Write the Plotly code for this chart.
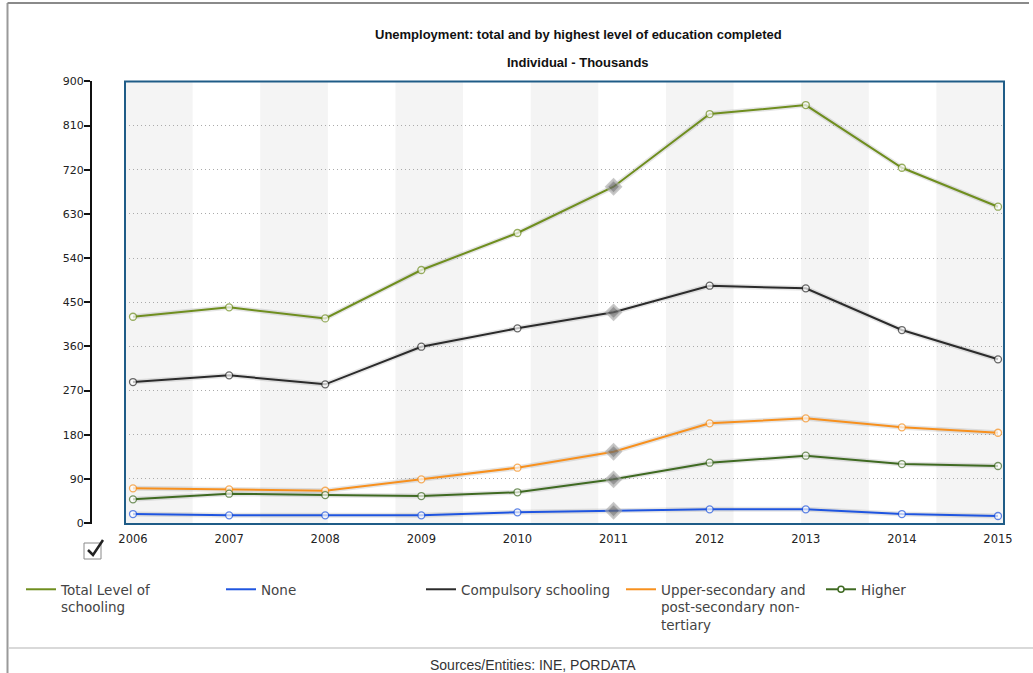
import plotly.graph_objects as go

# ---------------- data ----------------
years = [2006, 2007, 2008, 2009, 2010, 2011, 2012, 2013, 2014, 2015]
total = [420.4, 439.6, 417.0, 515.6, 591.0, 685.3, 833.5, 851.8, 724.0, 644.6]
none_ = [18.3, 15.7, 15.7, 15.7, 21.8, 25.0, 27.9, 27.9, 18.3, 14.3]
compulsory = [287.3, 301.0, 282.6, 359.3, 396.8, 429.4, 483.6, 478.3, 393.3, 333.6]
upper_secondary = [70.7, 68.7, 65.8, 89.0, 112.7, 145.3, 203.2, 213.4, 195.0, 184.0]
higher = [48.3, 59.7, 57.0, 55.0, 62.6, 89.0, 122.9, 137.2, 120.2, 116.2]
highlight_year = 2011

series_names = ["Total Level of<br>schooling", "None", "Compulsory schooling",
                "Upper-secondary and<br>post-secondary non-<br>tertiary", "Higher"]
series_values = [total, none_, compulsory, upper_secondary, higher]
series_colors = ["#6f8e1f", "#1f55e0", "#2b2b2b", "#f7901e", "#3f6a22"]
legend_modes = ["lines", "lines", "lines", "lines", "lines+markers"]

y_ticks = [0, 90, 180, 270, 360, 450, 540, 630, 720, 810, 900]

title_text = "Unemployment: total and by highest level of education completed"
subtitle_text = "Individual - Thousands"
source_text = "Sources/Entities: INE, PORDATA"

# ---------------- layout geometry (pixels) ----------------
W, H = 1033, 673
px_x = lambda p: p / W
px_y = lambda p: (H - p) / H

plot_left, plot_right = 125, 1004
plot_top, plot_bottom = 81.4, 524

fig = go.Figure()

# soft shadows under the lines
for vals in series_values:
    fig.add_trace(go.Scatter(
        x=years, y=vals, mode="lines", showlegend=False, hoverinfo="skip",
        line=dict(color="rgba(0,0,0,0.10)", width=5),
    ))

for name, vals, col, lmode in zip(series_names, series_values, series_colors, legend_modes):
    symbols = ["diamond" if y == highlight_year else "circle" for y in years]
    sizes = [11 if y == highlight_year else 7 for y in years]
    fills = ["#6a6a6a" if y == highlight_year else "white" for y in years]
    lcols = ["rgba(170,170,170,0.9)" if y == highlight_year else col for y in years]
    lwid = [2.5 if y == highlight_year else 1.3 for y in years]
    fig.add_trace(go.Scatter(
        x=years, y=vals, mode="lines+markers", name=name, showlegend=False,
        line=dict(color=col, width=2),
        marker=dict(symbol=symbols, size=sizes, color=fills,
                    line=dict(color=lcols, width=lwid)),
    ))
    # legend entry
    fig.add_trace(go.Scatter(
        x=[None], y=[None], mode=lmode, name=name, showlegend=True,
        line=dict(color=col, width=2),
        marker=dict(symbol="circle", size=6, color="white", line=dict(color=col, width=1.5)),
    ))

shapes = []
# alternating background bands
n_bands = 13
bw = (plot_right - plot_left) / n_bands
for i in range(0, n_bands, 2):
    shapes.append(dict(type="rect", xref="paper", yref="paper", layer="below",
                       x0=px_x(plot_left + i * bw), x1=px_x(plot_left + (i + 1) * bw),
                       y0=px_y(plot_bottom), y1=px_y(plot_top),
                       fillcolor="#f4f4f4", line=dict(width=0)))
# plot frame
shapes.append(dict(type="rect", xref="paper", yref="paper", layer="above",
                   x0=px_x(plot_left), x1=px_x(plot_right),
                   y0=px_y(plot_bottom), y1=px_y(plot_top),
                   line=dict(color="#1f5c87", width=2)))
# outer border
shapes.append(dict(type="line", xref="paper", yref="paper",
                   x0=px_x(7.5), x1=px_x(7.5), y0=0, y1=px_y(3),
                   line=dict(color="#9a9a9a", width=2)))
shapes.append(dict(type="line", xref="paper", yref="paper",
                   x0=px_x(7.5), x1=px_x(1029), y0=px_y(3), y1=px_y(3),
                   line=dict(color="#8a8a8a", width=2)))
# separator above source
shapes.append(dict(type="line", xref="paper", yref="paper",
                   x0=px_x(8), x1=1, y0=px_y(648), y1=px_y(648),
                   line=dict(color="#cccccc", width=1.5)))
# checkbox icon
shapes.append(dict(type="rect", xref="paper", yref="paper",
                   x0=px_x(84), x1=px_x(101), y0=px_y(559), y1=px_y(543),
                   line=dict(color="#8a8a8a", width=1), fillcolor="white"))
shapes.append(dict(type="path", xref="paper", yref="paper",
                   path="M {:.5f} {:.5f} L {:.5f} {:.5f} L {:.5f} {:.5f}".format(
                       px_x(88), px_y(550), px_x(93), px_y(555), px_x(103), px_y(540)),
                   line=dict(color="#222222", width=2.5)))

annotations = [
    dict(text="<b>" + title_text + "</b>", x=px_x(578), y=px_y(34), xref="paper", yref="paper",
         xanchor="center", yanchor="middle",
         showarrow=False, font=dict(family="Liberation Sans", size=13, color="#111")),
    dict(text="<b>" + subtitle_text + "</b>", x=px_x(578), y=px_y(62), xref="paper", yref="paper",
         xanchor="center", yanchor="middle",
         showarrow=False, font=dict(family="Liberation Sans", size=13, color="#111")),
    dict(text=source_text, x=px_x(533), y=px_y(665), xref="paper", yref="paper",
         xanchor="center", yanchor="middle",
         showarrow=False, font=dict(family="Liberation Sans", size=14, color="#333")),
]

x_px_per_year = 96.1
fig.update_layout(
    width=W, height=H, autosize=False,
    margin=dict(l=0, r=0, t=0, b=0, autoexpand=False),
    paper_bgcolor="white", plot_bgcolor="white",
    shapes=shapes, annotations=annotations,
    xaxis=dict(domain=[px_x(plot_left), px_x(plot_right)],
               range=[years[0] - 8 / x_px_per_year, years[-1] + 6 / x_px_per_year],
               tickmode="array", tickvals=years, ticktext=[str(y) for y in years],
               showgrid=False, zeroline=False, showline=False, ticks="",
               ticklabelstandoff=6,
               tickfont=dict(family="DejaVu Sans", size=11.5, color="#222")),
    yaxis=dict(domain=[px_y(plot_bottom), px_y(plot_top)],
               range=[-2, 900], anchor="free", position=px_x(91),
               tickmode="array", tickvals=y_ticks,
               showgrid=True, gridcolor="#aaaaaa", griddash="1px,3px", gridwidth=1,
               zeroline=False, showline=True, linecolor="#111", linewidth=2,
               ticks="outside", ticklen=6, tickwidth=2, tickcolor="#111",
               ticklabelstandoff=-2,
               tickfont=dict(family="DejaVu Sans", size=11, color="#222")),
    legend=dict(orientation="h", x=px_x(21), y=px_y(574), xanchor="left", yanchor="top",
                entrywidth=155, entrywidthmode="pixels", valign="top",
                font=dict(family="DejaVu Sans", size=13.5, color="#444"),
                bgcolor="rgba(0,0,0,0)", itemclick=False),
    showlegend=True,
)

fig.write_html("out.html", config={"displayModeBar": False},
               post_script="document.body.style.margin='0';")
